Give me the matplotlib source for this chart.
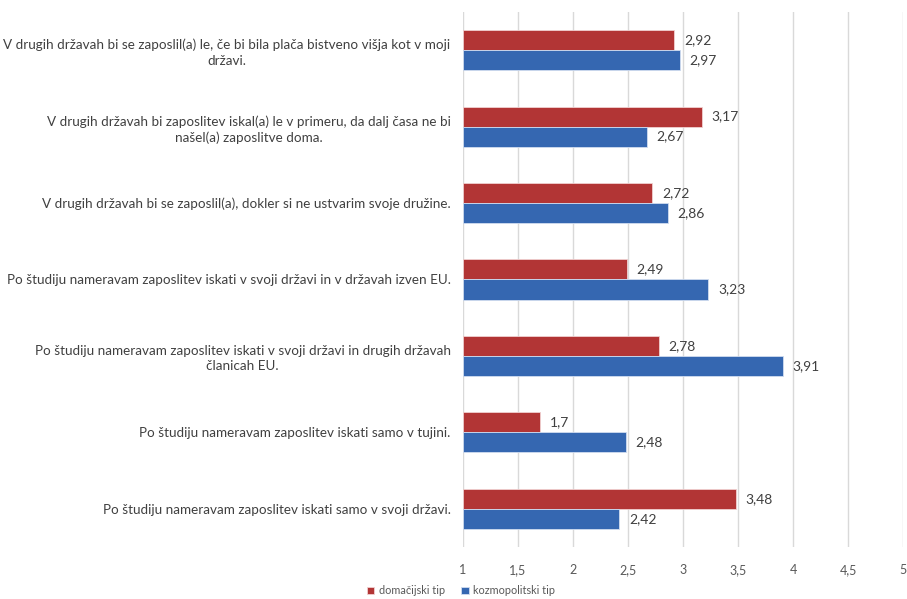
import matplotlib
matplotlib.use("Agg")
import matplotlib.pyplot as plt
import numpy as np

categories = [
    "V drugih državah bi se zaposlil(a) le, če bi bila plača bistveno višja kot v moji\ndržavi.",
    "V drugih državah bi zaposlitev iskal(a) le v primeru, da dalj časa ne bi\nnašel(a) zaposlitve doma.",
    "V drugih državah bi se zaposlil(a), dokler si ne ustvarim svoje družine.",
    "Po študiju nameravam zaposlitev iskati v svoji državi in v državah izven EU.",
    "Po študiju nameravam zaposlitev iskati v svoji državi in drugih državah\nčlanicah EU.",
    "Po študiju nameravam zaposlitev iskati samo v tujini.",
    "Po študiju nameravam zaposlitev iskati samo v svoji državi.",
]
domacijski = [2.92, 3.17, 2.72, 2.49, 2.78, 1.70, 3.48]
kozmopolitski = [2.97, 2.67, 2.86, 3.23, 3.91, 2.48, 2.42]
series_names = ["domačijski tip", "kozmopolitski tip"]
xticks = [1, 1.5, 2, 2.5, 3, 3.5, 4, 4.5, 5]

plt.rcParams['font.family'] = ['Lato', 'DejaVu Sans']

fig = plt.figure(figsize=(9.07, 5.99), dpi=100)
ax = fig.add_axes([0.5105, 0.0868, 0.4851, 0.8932])

red = "#B23535"
blue = "#3567B1"
n = len(categories)
y = np.arange(n)
h = 0.262
base = 1
ax.barh(y - h/2, np.array(domacijski) - base, left=base, height=h, color=red,
        edgecolor="#f0d0d0", linewidth=0.6, label=series_names[0])
ax.barh(y + h/2, np.array(kozmopolitski) - base, left=base, height=h, color=blue,
        edgecolor="#d0dcf0", linewidth=0.6, label=series_names[1])

def fmt(v):
    s = f"{v:.2f}".rstrip("0").rstrip(".")
    return s.replace(".", ",")

for i in range(n):
    ax.annotate(fmt(domacijski[i]), (domacijski[i], y[i] - h/2), xytext=(7, 0),
                textcoords="offset points", va="center", ha="left", fontsize=10, color="#404040")
    ax.annotate(fmt(kozmopolitski[i]), (kozmopolitski[i], y[i] + h/2), xytext=(7, 0),
                textcoords="offset points", va="center", ha="left", fontsize=10, color="#404040")

ax.set_xlim(1, 5)
ax.set_ylim(n - 0.5, -0.5)
ax.set_xticks(xticks)
ax.set_xticklabels([fmt(t) for t in xticks], fontsize=9, color="#595959")
ax.set_yticks(y)
ax.set_yticklabels(categories, fontsize=9.7, color="#404040", ha="right",
                   multialignment="center", linespacing=1.35)
ax.tick_params(axis="y", length=0, pad=9)
ax.tick_params(axis="x", length=0, pad=12)
for s in ax.spines.values():
    s.set_visible(False)
ax.grid(axis="x", color="#d9d9d9", linewidth=1)
ax.set_axisbelow(True)

leg = fig.legend(loc="lower center", bbox_to_anchor=(0.508, -0.012), ncol=2, frameon=False,
                 fontsize=7.8, handlelength=0.7, handleheight=0.7, handletextpad=0.4,
                 columnspacing=1.5, labelcolor="#595959")

fig.savefig("out.png", dpi=100)
